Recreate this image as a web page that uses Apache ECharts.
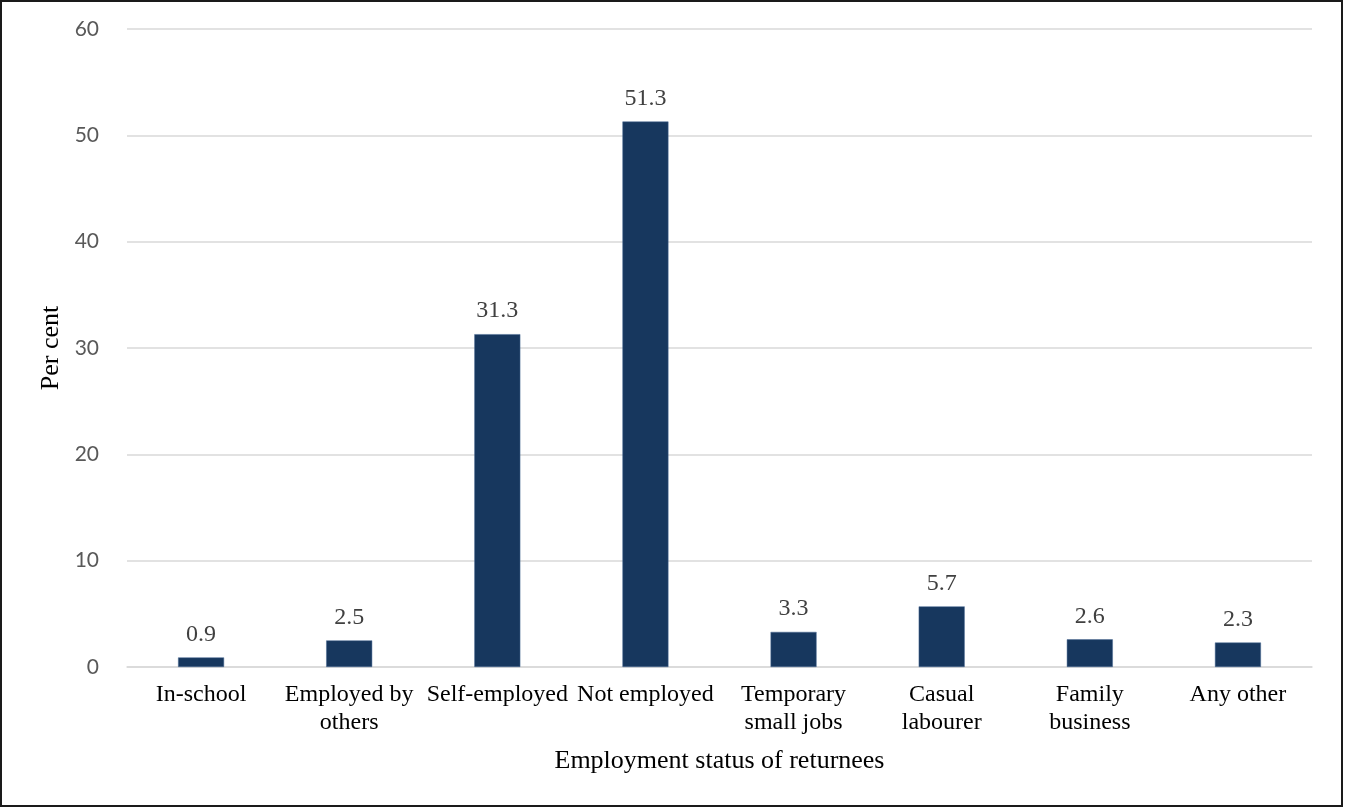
<!DOCTYPE html>
<html>
<head>
<meta charset="utf-8">
<script src="https://cdn.jsdelivr.net/npm/echarts@6/dist/echarts.min.js"></script>
<style>
  html, body { margin: 0; padding: 0; background: #fff; }
  #frame { position: absolute; left: 0; top: 0; width: 1339px; height: 803px; border: 2px solid #1a1a1a; }
  #chart { position: absolute; left: 0; top: 0; width: 1345px; height: 807px; }
</style>
</head>
<body>
<div id="frame"></div>
<div id="chart"></div>
<script>
// Employment status of returnees (per cent)
const categories = ['In-school', 'Employed by\nothers', 'Self-employed', 'Not employed',
                    'Temporary\nsmall jobs', 'Casual\nlabourer', 'Family\nbusiness', 'Any other'];
const percentValues = [0.9, 2.5, 31.3, 51.3, 3.3, 5.7, 2.6, 2.3];
const yTicks = [0, 10, 20, 30, 40, 50, 60];

const chart = echarts.init(document.getElementById('chart'), null, { renderer: 'canvas' });
chart.setOption({
  animation: false,
  grid: { left: 127, right: 33, top: 29, bottom: 140, containLabel: false },
  xAxis: {
    type: 'category',
    data: categories,
    name: 'Employment status of returnees',
    nameLocation: 'middle',
    nameGap: 81,
    nameTextStyle: { fontFamily: 'Liberation Serif', fontSize: 26, color: '#000' },
    axisLine: { show: true, lineStyle: { color: '#d9d9d9', width: 1.5 } },
    axisTick: { show: false },
    axisLabel: {
      fontFamily: 'Liberation Serif', fontSize: 24, color: '#000',
      lineHeight: 28, margin: 14, interval: 0
    }
  },
  yAxis: {
    type: 'value',
    min: yTicks[0],
    max: yTicks[yTicks.length - 1],
    interval: 10,
    name: 'Per cent',
    nameLocation: 'middle',
    nameGap: 62,
    nameRotate: 90,
    nameTextStyle: { fontFamily: 'Liberation Serif', fontSize: 26, color: '#000' },
    axisLine: { show: false },
    axisTick: { show: false },
    axisLabel: { fontFamily: 'Lato', fontSize: 21, color: '#595959', margin: 28 },
    splitLine: { lineStyle: { color: '#d9d9d9', width: 1.5 } }
  },
  series: [{
    type: 'bar',
    data: percentValues,
    barWidth: 46,
    itemStyle: { color: '#17375e', borderColor: '#4a6a94', borderWidth: 0.5 },
    label: {
      show: true, position: 'top', distance: 11,
      fontFamily: 'Liberation Serif', fontSize: 24, color: '#404040',
      formatter: p => p.value.toFixed(1)
    }
  }]
});
</script>
</body>
</html>
